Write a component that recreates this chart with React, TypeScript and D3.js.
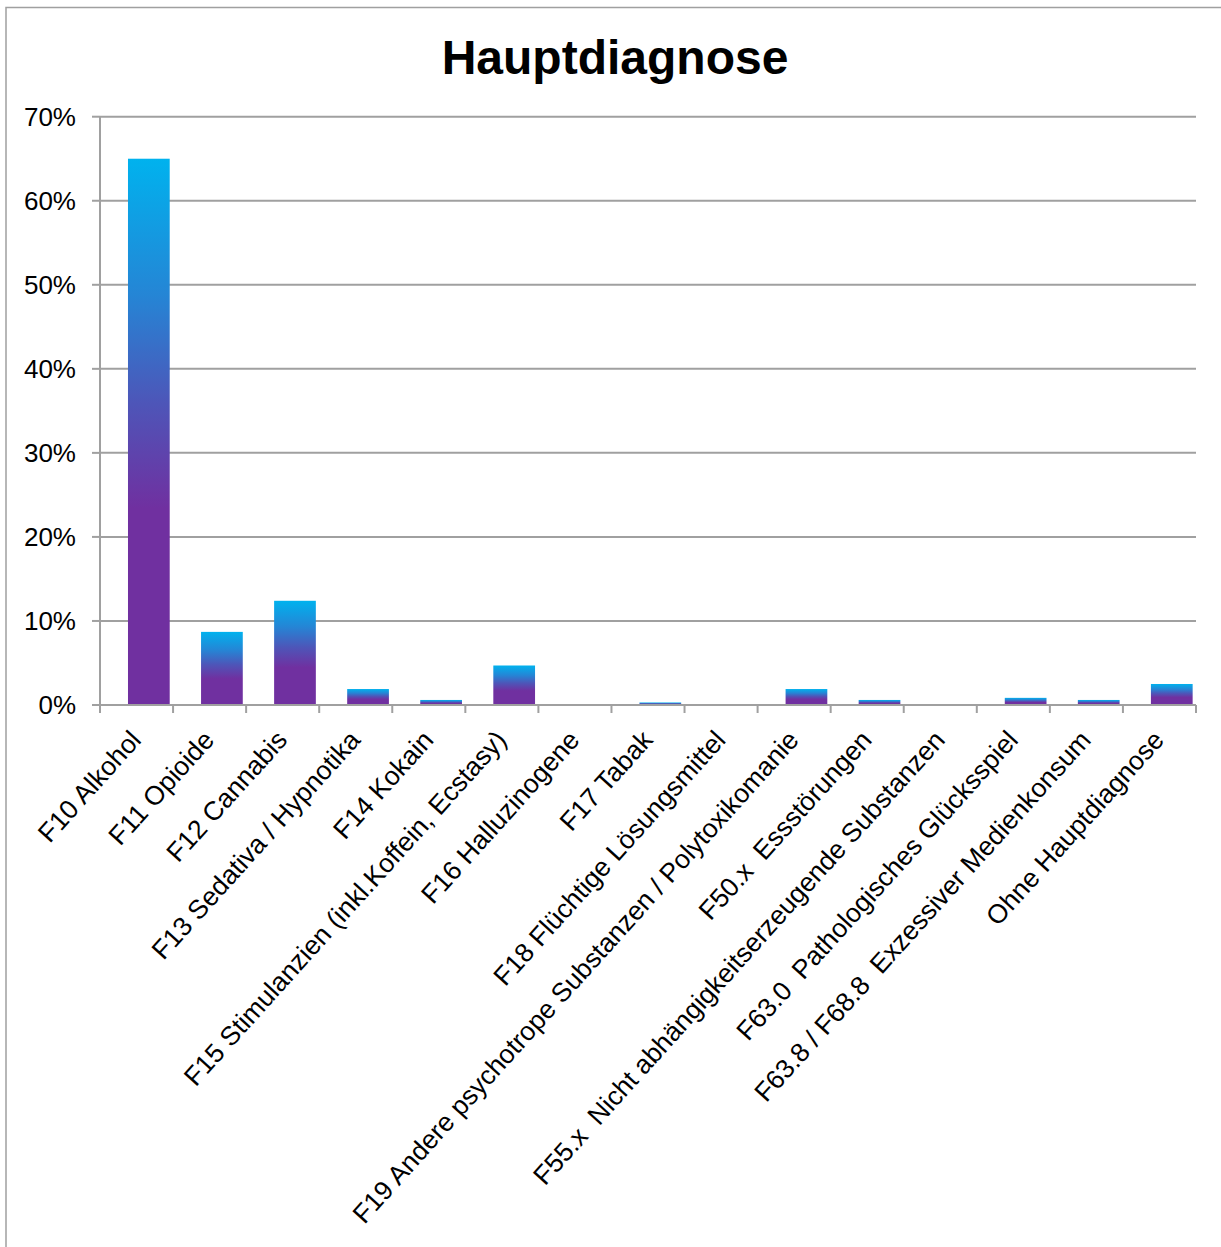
import React from "react";
import * as d3 from "d3";

const categories: string[] = [
  "F10 Alkohol",
  "F11 Opioide",
  "F12 Cannabis",
  "F13 Sedativa / Hypnotika",
  "F14 Kokain",
  "F15 Stimulanzien (inkl.Koffein, Ecstasy)",
  "F16 Halluzinogene",
  "F17 Tabak",
  "F18 Flüchtige Lösungsmittel",
  "F19 Andere psychotrope Substanzen / Polytoxikomanie",
  "F50.x  Essstörungen",
  "F55.x  Nicht abhängigkeitserzeugende Substanzen",
  "F63.0  Pathologisches Glücksspiel",
  "F63.8 / F68.8  Exzessiver Medienkonsum",
  "Ohne Hauptdiagnose",
];

const values: number[] = [
  0.65, 0.087, 0.124, 0.019, 0.006, 0.047, 0, 0.003, 0, 0.019, 0.006, 0, 0.0085, 0.006, 0.025,
];

const yTicks: number[] = [0, 0.1, 0.2, 0.3, 0.4, 0.5, 0.6, 0.7];

const title = "Hauptdiagnose";

const W = 1221;
const H = 1247;
const plotLeft = 100;
const plotRight = 1196;
const plotTop = 116.7;
const plotBottom = 705;

export default function App() {
  const xb = d3.scaleBand<string>().domain(categories).range([plotLeft, plotRight]);
  const step = xb.bandwidth();
  const barW = step * 0.571;
  const barOffset = step * 0.383;
  const y = d3.scaleLinear().domain([0, 0.7]).range([plotBottom, plotTop]);
  const fmt = d3.format(".0%");
  const font = "Arial, 'Liberation Sans', sans-serif";
  const gridColor = "#a0a0a0";

  return (
    <svg
      width={W}
      height={H}
      style={{ position: "absolute", left: 0, top: 0, background: "#fff" }}
      fontFamily={font}
    >
      <defs>
        <linearGradient id="barGrad" x1="0" y1="0" x2="0" y2="1">
          <stop offset="0" stopColor="#00B2EE" />
          <stop offset="0.25" stopColor="#2585D5" />
          <stop offset="0.45" stopColor="#4E55B8" />
          <stop offset="0.64" stopColor="#7030A0" />
          <stop offset="1" stopColor="#7030A0" />
        </linearGradient>
      </defs>
      <rect x={6} y={7.5} width={W + 20} height={H + 20} fill="#fff" stroke={gridColor} strokeWidth={1.5} />
      <text x={615} y={74} textAnchor="middle" fontSize={48} fontWeight="bold" fill="#000">
        {title}
      </text>
      {yTicks.map((t) => (
        <g key={t}>
          {t > 0 && (
            <line x1={plotLeft} x2={plotRight} y1={y(t)} y2={y(t)} stroke={gridColor} strokeWidth={2} />
          )}
          <line x1={92} x2={plotLeft} y1={y(t)} y2={y(t)} stroke={gridColor} strokeWidth={2} />
          <text x={76} y={y(t) + 9} textAnchor="end" fontSize={26} fill="#000">
            {fmt(t)}
          </text>
        </g>
      ))}
      {categories.map((c, i) => {
        const v = values[i];
        if (v <= 0) return null;
        return (
          <rect
            key={c}
            x={(xb(c) as number) + barOffset}
            y={y(v)}
            width={barW}
            height={plotBottom - y(v)}
            fill="url(#barGrad)"
          />
        );
      })}
      <line x1={plotLeft} x2={plotLeft} y1={plotTop} y2={plotBottom} stroke={gridColor} strokeWidth={2} />
      <line x1={plotLeft} x2={plotRight} y1={plotBottom} y2={plotBottom} stroke={gridColor} strokeWidth={2} />
      {[...categories.map((c) => xb(c) as number), plotRight].map((px, i) => (
        <line key={i} x1={px} x2={px} y1={plotBottom} y2={plotBottom + 8} stroke={gridColor} strokeWidth={2} />
      ))}
      {categories.map((c) => {
        const cx = (xb(c) as number) + step / 2;
        return (
          <text
            key={c}
            transform={`translate(${cx + 6},${741}) rotate(-48)`}
            textAnchor="end"
            fontSize={26.5}
            fill="#000"
            style={{ whiteSpace: "pre" }}
          >
            {c}
          </text>
        );
      })}
    </svg>
  );
}
